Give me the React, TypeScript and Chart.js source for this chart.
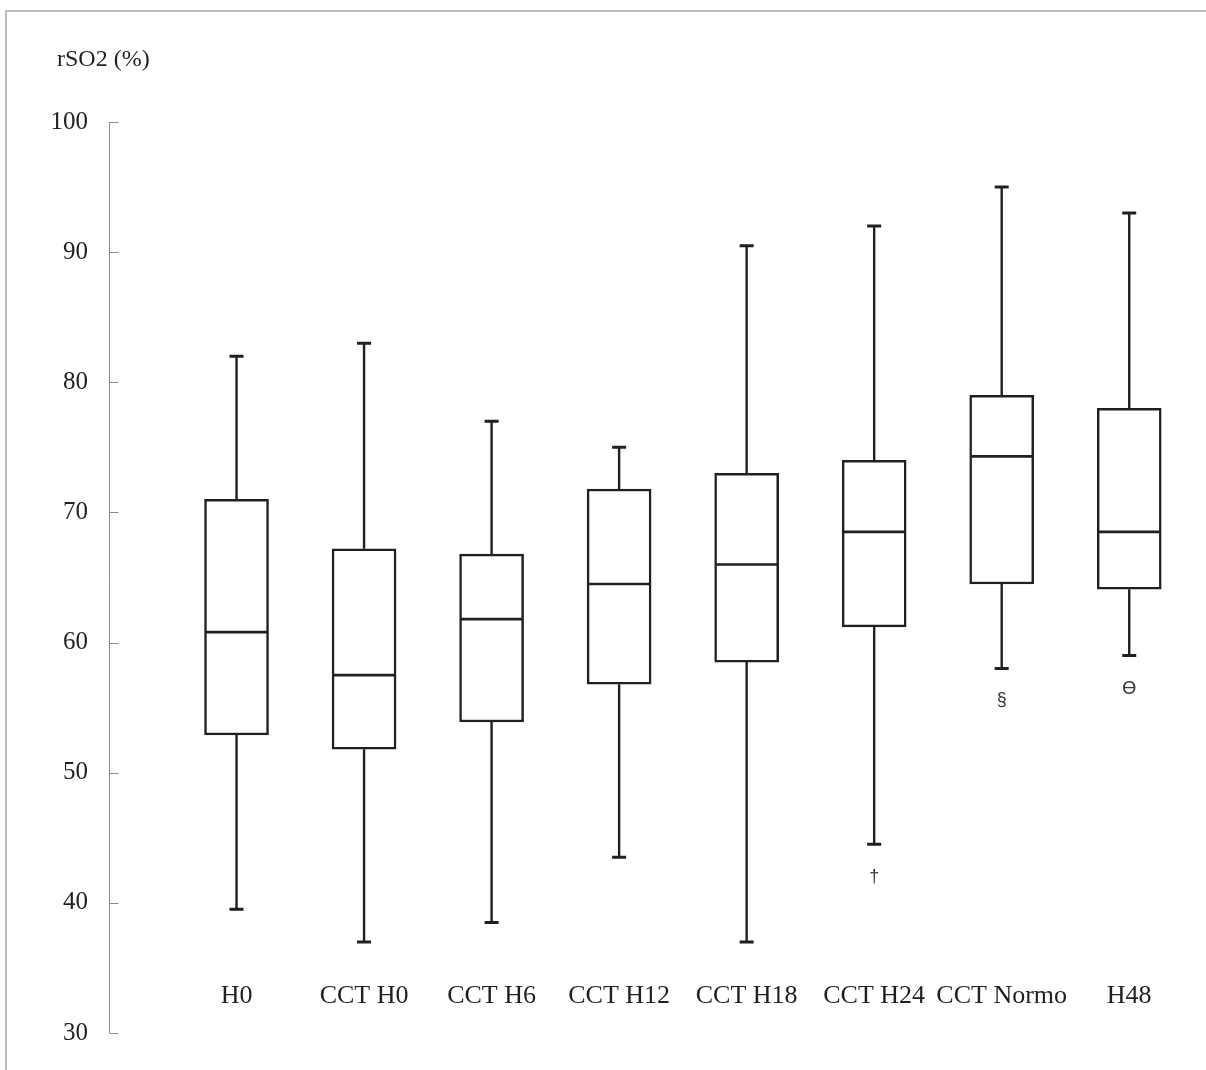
import { useEffect, useRef } from 'react';
import { Chart, registerables } from 'chart.js';

Chart.register(...registerables);

const categories = ['H0', 'CCT H0', 'CCT H6', 'CCT H12', 'CCT H18', 'CCT H24', 'CCT Normo', 'H48'];
const whiskerLow = [39.5, 37, 38.5, 43.5, 37, 44.5, 58, 59];
const q1 = [52.9, 51.8, 53.9, 56.8, 58.5, 61.2, 64.5, 64.1];
const median = [60.8, 57.5, 61.8, 64.5, 66.0, 68.5, 74.3, 68.5];
const q3 = [71.0, 67.2, 66.8, 71.8, 73.0, 74.0, 79.0, 78.0];
const whiskerHigh = [82, 83, 77, 75, 90.5, 92, 95, 93];
const markers = ['', '', '', '', '', '†', '§', 'ϴ'];
const markerValues = [null, null, null, null, null, 42.0, 55.6, 56.4];

const yMin = 30;
const yMax = 100;
const yStep = 10;
const categoryLabelValue = 32.85;
const yTitle = 'rSO2 (%)';

const INK = '#231f20';
const SERIF = '"Liberation Serif", "Times New Roman", serif';
const SANS = '"Liberation Sans", Arial, sans-serif';

const boxPlugin = {
  id: 'boxPlugin',
  beforeDraw(chart: any) {
    const ctx = chart.ctx;
    ctx.save();
    ctx.fillStyle = '#ffffff';
    ctx.fillRect(0, 0, chart.width, chart.height);
    // outer frame (top & left visible)
    ctx.strokeStyle = '#a6a6a6';
    ctx.lineWidth = 1.5;
    ctx.beginPath();
    ctx.moveTo(6, chart.height);
    ctx.lineTo(6, 11);
    ctx.lineTo(chart.width, 11);
    ctx.stroke();
    ctx.restore();
  },
  beforeDatasetsDraw(chart: any) {
    const ctx = chart.ctx;
    const xs = chart.scales.x;
    const ys = chart.scales.y;
    ctx.save();
    // y axis line and inward ticks
    const ax = Math.round(chart.chartArea.left) + 0.5;
    ctx.strokeStyle = '#8c8c8c';
    ctx.lineWidth = 1;
    ctx.beginPath();
    ctx.moveTo(ax, ys.getPixelForValue(yMax));
    ctx.lineTo(ax, ys.getPixelForValue(yMin));
    ys.ticks.forEach((t: any) => {
      const py = Math.round(ys.getPixelForValue(t.value)) + 0.5;
      ctx.moveTo(ax, py);
      ctx.lineTo(ax + 9, py);
    });
    ctx.stroke();

    // whiskers
    ctx.strokeStyle = INK;
    categories.forEach((_, i) => {
      const cx = xs.getPixelForValue(i);
      ctx.lineWidth = 2.4;
      ctx.beginPath();
      ctx.moveTo(cx, ys.getPixelForValue(q3[i]));
      ctx.lineTo(cx, ys.getPixelForValue(whiskerHigh[i]));
      ctx.moveTo(cx, ys.getPixelForValue(q1[i]));
      ctx.lineTo(cx, ys.getPixelForValue(whiskerLow[i]));
      ctx.stroke();
      ctx.lineWidth = 3;
      ctx.beginPath();
      ctx.moveTo(cx - 7, ys.getPixelForValue(whiskerHigh[i]));
      ctx.lineTo(cx + 7, ys.getPixelForValue(whiskerHigh[i]));
      ctx.moveTo(cx - 7, ys.getPixelForValue(whiskerLow[i]));
      ctx.lineTo(cx + 7, ys.getPixelForValue(whiskerLow[i]));
      ctx.stroke();
    });
    ctx.restore();
  },
  afterDatasetsDraw(chart: any) {
    const ctx = chart.ctx;
    const xs = chart.scales.x;
    const ys = chart.scales.y;
    const meta = chart.getDatasetMeta(0);
    ctx.save();
    ctx.strokeStyle = INK;
    ctx.lineWidth = 2.7;
    categories.forEach((_, i) => {
      const bar = meta.data[i];
      const half = bar.width / 2;
      const my = ys.getPixelForValue(median[i]);
      ctx.beginPath();
      ctx.moveTo(bar.x - half + 1, my);
      ctx.lineTo(bar.x + half - 1, my);
      ctx.stroke();
    });

    // significance markers
    ctx.fillStyle = '#333333';
    ctx.font = `18px ${SANS}`;
    ctx.textAlign = 'center';
    ctx.textBaseline = 'middle';
    markers.forEach((m, i) => {
      const v = markerValues[i];
      if (m && v !== null) {
        ctx.fillText(m, xs.getPixelForValue(i), ys.getPixelForValue(v));
      }
    });

    // category labels
    ctx.fillStyle = INK;
    ctx.font = `26px ${SERIF}`;
    categories.forEach((c, i) => {
      ctx.fillText(c, xs.getPixelForValue(i), ys.getPixelForValue(categoryLabelValue));
    });

    // axis title
    ctx.font = `24px ${SERIF}`;
    ctx.textAlign = 'left';
    ctx.fillText(yTitle, 57, 60);
    ctx.restore();
  },
};

export default function App() {
  const ref = useRef<HTMLCanvasElement | null>(null);

  useEffect(() => {
    document.body.style.margin = '0';
    const canvas = ref.current;
    if (!canvas) return;
    const chart = new Chart(canvas, {
      type: 'bar',
      data: {
        datasets: [
          {
            label: 'IQR',
            data: categories.map((_, i) => ({ x: i, y: [q1[i], q3[i]] })) as any,
            backgroundColor: '#ffffff',
            borderColor: INK,
            borderWidth: 2.5,
            borderSkipped: false,
            barThickness: 64,
          },
        ],
      },
      options: {
        responsive: false,
        animation: false,
        layout: { padding: { left: 0, right: 13, top: 122, bottom: 37 } },
        plugins: {
          legend: { display: false },
          tooltip: { enabled: false },
          title: { display: false },
        },
        scales: {
          x: {
            type: 'linear',
            min: -1,
            max: 7.5,
            offset: false,
            display: false,
          },
          y: {
            type: 'linear',
            min: yMin,
            max: yMax,
            border: { display: false },
            grid: { display: false, drawTicks: false },
            ticks: {
              stepSize: yStep,
              padding: 21,
              color: INK,
              font: { family: SERIF, size: 25 },
            },
            afterFit(scale: any) {
              scale.width = 109;
            },
          },
        },
      },
      plugins: [boxPlugin],
    });
    return () => chart.destroy();
  }, []);

  return (
    <div style={{ width: 1206, height: 1070, background: '#fff' }}>
      <canvas ref={ref} width={1206} height={1070} style={{ display: 'block' }} />
    </div>
  );
}
